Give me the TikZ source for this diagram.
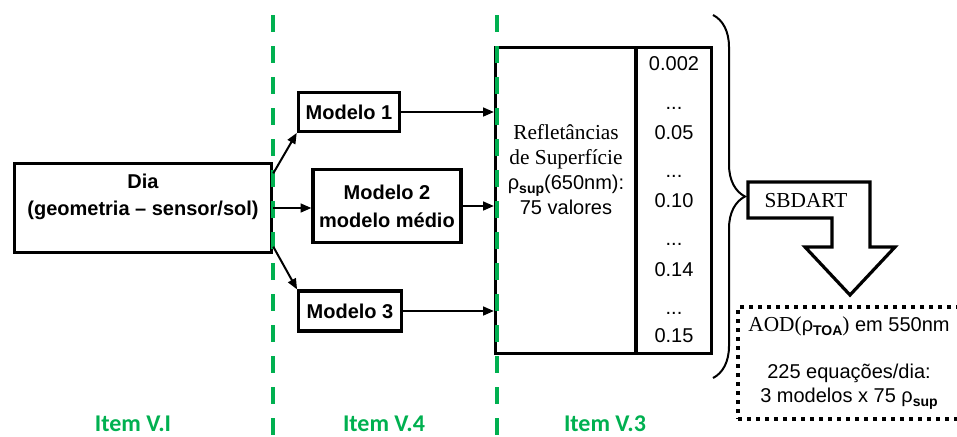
\documentclass[tikz,border=0pt]{standalone}
\usepackage{fontspec}
\setmainfont{Liberation Serif}
\setsansfont{Liberation Sans}
\newfontfamily\itemfont{Carlito}
\renewcommand{\familydefault}{\sfdefault}
\usetikzlibrary{arrows.meta,decorations.pathreplacing}
\definecolor{sectiongreen}{RGB}{0,176,80}
\newcommand{\lowsub}[1]{\raisebox{-0.35ex}{\fontsize{10.5}{10.5}\selectfont\bfseries #1}}

\begin{document}
\begin{tikzpicture}[
  x=0.75pt,y=-0.75pt,
  flow/.style={-{Triangle[length=8pt,width=6.5pt]}, line width=1.5pt},
  box/.style={draw, line width=2.4pt, fill=white, inner sep=0pt},
  model/.style={box, font=\fontsize{15}{21}\selectfont\bfseries, align=center},
  value/.style={font=\fontsize{15}{18}\selectfont, anchor=base},
  divider/.style={draw=sectiongreen, line width=2.4pt,
                  dash pattern=on 12.75pt off 10.5pt},
  section/.style={font=\itemfont\fontsize{18}{20}\selectfont\bfseries,
                  text=sectiongreen}
]
\useasboundingbox (0,0) rectangle (957,436);

% Day geometry, the input of the whole chain.
\node[box, minimum width=193pt, minimum height=67pt] (dia) at (143,208) {};
\node[font=\fontsize{15}{20.25}\selectfont\bfseries, align=center]
  (diatext) at (143,197) {Dia\\(geometria – sensor/sol)};

% Aerosol models.
\node[model, minimum width=76pt, minimum height=29pt] (m1) at (349,112) {Modelo 1};
\node[model, minimum width=111pt, minimum height=55pt] (m2) at (387,206)
  {Modelo 2\\modelo médio};
\node[model, minimum width=77pt, minimum height=30pt] (m3) at (350,311) {Modelo 3};

% Surface reflectances and their values.
\node[box, minimum width=105pt, minimum height=230pt] (refl) at (565.5,200.5) {};
\node[box, minimum width=56pt, minimum height=230pt] (vals) at (674,200.5) {};
\node[font=\fontsize{15}{18.75}\selectfont, align=center] (refltext) at (566,170)
  {{\rmfamily\fontsize{16}{18.75}\selectfont Refletâncias}\\
   {\rmfamily\fontsize{16}{18.75}\selectfont de Superfície}\\
   ρ\lowsub{sup}(650nm):\\75 valores};

\foreach \val/\yb [count=\i] in {0.002/70, 0.05/139, 0.10/207, 0.14/276, 0.15/342}
  \node[value] (v\i) at (674,\yb) {\val};
\foreach \yb [count=\i] in {109,177,245,314}
  \node[value] (gap\i) at (674,\yb) {...};

% Section dividers sit on top of the box edges.
\foreach \xd in {273,497}
  \draw[divider] (\xd,15) -- (\xd,436);

\draw[flow] ([yshift=26pt]dia.east) -- (m1.south west);
\draw[flow] (dia.east) -- (dia.east -| m2.west);
\draw[flow] ([yshift=-29pt]dia.east) -- (m3.north west);
\foreach \m in {m1,m2,m3}
  \draw[flow] (\m.east) -- (\m.east -| refl.west);

% Brace and radiative transfer step.
\coordinate (bracetop) at (713,15);
\coordinate (bracebot) at (713,378);
\draw[line width=1.5pt, decorate, decoration={brace, amplitude=24pt}]
  (bracetop) -- (bracebot);

\draw[line width=2.4pt, line join=miter, fill=white]
  (748,182) -- (870,182) -- (870,247) -- (895,247) -- (850,295)
  -- (805,247) -- (832,247) -- (832,218) -- (748,218) -- cycle;
\node[font=\rmfamily\fontsize{16}{16}\selectfont] (sbdart) at (806,201) {SBDART};

% Output equations.
\node[draw, line width=3pt, dash pattern=on 3pt off 3.75pt,
      minimum width=166pt, minimum height=84pt, align=center,
      font=\fontsize{15}{18}\selectfont] (result) at (849,363)
  {{\rmfamily\fontsize{16}{18}\selectfont AOD(}ρ\lowsub{TOA}{\rmfamily\fontsize{16}{18}\selectfont )} em 550nm\\[17pt]
   225 equações/dia:\\3 modelos x 75 ρ\lowsub{sup}};

\node[section] (itema) at (133,424) {Item V.I};
\node[section] (itemb) at (384,424) {Item V.4};
\node[section] (itemc) at (605,424) {Item V.3};

\end{tikzpicture}
\end{document}
